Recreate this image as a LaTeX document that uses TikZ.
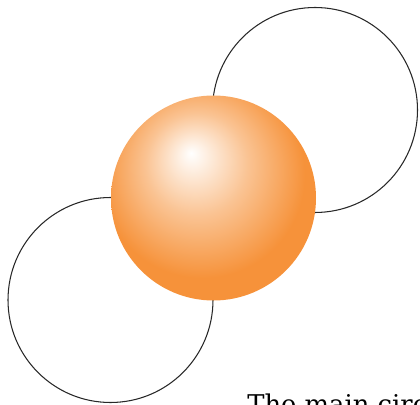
\documentclass[tikz,border=0pt]{standalone}
\usepackage{fontspec}
\usepackage{xcolor}
\usepackage{tikz}
\usetikzlibrary{positioning}
\newfontfamily\notefont{DejaVu Serif}
\definecolor{ballorange}{RGB}{246,146,58}
\definecolor{ringgray}{RGB}{40,40,40}
\pgfdeclareradialshading{orangeball}{\pgfpoint{-5.5bp}{11bp}}{%
  color(0bp)=(white); color(12.5bp)=(ballorange!55!white);
  color(25bp)=(ballorange); color(50bp)=(ballorange)}
\tikzset{
  ring/.style={circle, draw=ringgray, line width=0.6pt,
    minimum size=4.1cm, inner sep=0pt},
  ball/.style={circle, shade, shading=orangeball, draw=none,
    minimum size=4.1cm, inner sep=0pt},
  note/.style={font=\notefont\fontsize{14.7}{17}\selectfont,
    anchor=base west, inner sep=0pt}
}

\begin{document}
\begin{tikzpicture}
  \useasboundingbox (0,0) rectangle (8.4,8.08);

  % Outline circles
  \node[ring] (upperring) at (6.30,5.88) {};
  \node[ring] (lowerring) at (2.21,2.08) {};

  % Main ball
  \node[ball] (mainball) at (4.27,4.12) {};

  % Caption
  \node[note] (caption) at (4.94,-0.19) {The main circle};
\end{tikzpicture}
\end{document}
